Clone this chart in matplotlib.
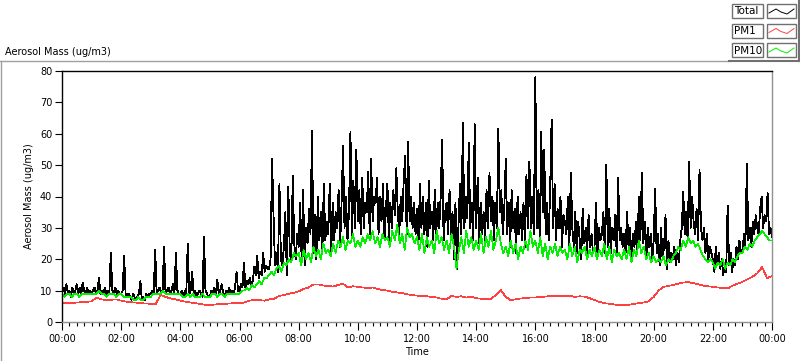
#!/usr/bin/env python
import numpy as np
import matplotlib
matplotlib.use('Agg')
import matplotlib.pyplot as plt
from matplotlib.ticker import MultipleLocator
from matplotlib.patches import Rectangle
from matplotlib.lines import Line2D

matplotlib.rc('font', family='DejaVu Sans', size=7)
matplotlib.rc('xtick', labelsize=7)
matplotlib.rc('ytick', labelsize=7)

# total aerosol mass, 3 min samples from 00:00 to 24:00 (one row per hour)
total = [
    10, 11, 9, 12, 9, 10, 8, 11, 9, 10, 12, 9, 11, 9, 12.5, 10, 9, 11, 9, 10,
    9, 10, 11, 9, 10, 14, 9, 10, 9, 11, 9, 10, 9, 22, 10, 9, 11, 9, 10, 9,
    9, 10, 21, 9, 8, 9, 8, 7, 9, 8, 7, 8, 9, 13, 7, 8, 7, 9, 8, 9,
    9, 10, 9, 23, 9, 10, 11, 9, 10, 24, 9, 10, 11, 9, 10, 12, 9, 22, 10, 9,
    9, 10, 8, 10, 9, 25, 9, 10, 16, 9, 10, 8, 9, 10, 9, 8, 27, 10, 9, 8,
    8, 10, 9, 11, 9, 13.5, 9, 10, 12, 9, 8, 10, 9, 11, 9, 10, 9, 11, 16, 10,
    10, 12, 11, 19, 11, 13, 12, 14, 12, 13, 17.5, 15, 21, 14, 16, 15, 22, 16, 18, 17,
    17, 20, 52, 34, 18, 22, 16, 44, 20, 18, 24, 35, 15, 43, 22, 19, 46.5, 25, 20, 28,
    24, 38, 20, 42, 18, 30, 25, 36, 28, 61, 22, 34, 20, 40, 26, 35, 22, 44, 26, 32,
    28, 44, 22, 38, 26, 35, 30, 42, 24, 38, 56, 30, 40, 26, 35, 60.5, 27, 45, 30, 55,
    32, 42, 28, 46, 30, 38, 35, 48, 28, 52, 32, 40, 38, 46, 28, 40, 32, 44, 26, 36,
    44, 26, 38, 30, 42, 34, 49, 35, 28, 40, 32, 45, 53, 28, 57.5, 32, 40, 30, 38, 28,
    36, 25, 44, 30, 40, 28, 38, 24, 45, 30, 35, 26, 42, 28, 38, 30, 40, 58, 26, 35,
    38, 28, 42, 26, 35, 20, 38, 17, 30, 44, 28, 63.5, 30, 40, 33, 57, 30, 38, 26, 63,
    30, 46, 25, 38, 28, 35, 26, 42, 30, 47.5, 32, 40, 26, 38, 30, 61.5, 35, 42, 28, 36,
    52, 28, 38, 24, 42, 30, 36, 22, 40, 28, 35, 26, 38, 24, 47, 30, 51, 30, 40, 28,
    78, 30, 42, 26, 60.5, 35, 55, 28, 38, 26, 42, 64.5, 30, 44, 26, 36, 30, 40, 24, 34,
    32, 28, 40, 24, 47.5, 30, 24, 35, 22, 32, 26, 20, 36, 25, 30, 22, 34, 24, 28, 22,
    24, 38, 22, 30, 26, 28, 35, 22, 50, 24, 36, 22, 30, 26, 34, 22, 46, 26, 30, 24,
    28, 22, 35, 24, 30, 20, 28, 24, 32, 22, 40, 26, 47.5, 25, 32, 20, 30, 24, 28, 20,
    26, 42.5, 22, 28, 18, 30, 20, 24, 34, 17, 26, 19, 22, 20, 24, 18, 22, 19, 26, 30,
    41.5, 28, 35, 26, 51, 30, 40, 32, 28, 36, 26, 48.5, 30, 26, 30, 22, 28, 20, 24, 22,
    20, 16, 24, 18, 22, 17, 20, 15, 18, 16, 37, 18, 22, 16, 20, 18, 24, 20, 26, 22,
    22, 28, 24, 50.5, 26, 30, 24, 32, 28, 34, 30, 28, 36, 40, 30, 34, 32, 41, 28, 30,
    27]

# PM10, 5 min samples
pm10 = [
    9, 8, 9, 9, 8, 9, 9, 8, 9, 9, 9, 9,
    9, 9, 9, 10, 9, 9, 8, 9, 9, 9, 8, 9,
    9, 8, 8, 8, 8, 7, 7, 8, 7, 7, 8, 8,
    8, 9, 9, 9, 9, 10, 9, 9, 9, 9, 9, 9,
    9, 8, 8, 9, 8, 9, 8, 8, 8, 9, 8, 8,
    8, 9, 9, 8, 9, 9, 8, 9, 9, 9, 9, 9,
    9, 10, 10, 11, 10, 12, 11, 12, 13, 12, 14, 14,
    15, 16, 15, 17, 18, 16, 19, 18, 20, 19, 22, 21,
    22, 18, 23, 20, 22, 19, 24, 21, 23, 20, 25, 22,
    23, 21, 25, 22, 26, 24, 27, 23, 26, 25, 28, 24,
    26, 24, 27, 25, 28, 26, 29, 25, 27, 24, 28, 26,
    27, 24, 29, 26, 31, 25, 28, 23, 30, 27, 28, 25,
    27, 23, 28, 22, 27, 24, 26, 22, 29, 25, 27, 23,
    26, 22, 28, 24, 17, 23, 27, 22, 29, 24, 27, 23,
    26, 23, 28, 22, 27, 24, 29, 23, 26, 30, 25, 22,
    24, 21, 26, 22, 25, 20, 24, 22, 26, 23, 29, 24,
    26, 22, 27, 21, 25, 20, 24, 22, 25, 21, 24, 22,
    23, 20, 25, 21, 24, 19, 23, 22, 24, 20, 23, 21,
    24, 20, 23, 21, 25, 20, 24, 19, 23, 21, 22, 20,
    23, 20, 24, 19, 23, 21, 26, 22, 24, 20, 22, 19,
    21, 19, 20, 19, 21, 18, 20, 19, 21, 22, 24, 23,
    26, 24, 27, 25, 26, 24, 25, 23, 21, 20, 19, 20,
    19, 17, 19, 18, 20, 17, 19, 18, 20, 19, 21, 22,
    22, 24, 23, 25, 24, 26, 27, 28, 29, 28, 27, 26,
    26]

# PM1 is smooth, 10 min samples
pm1 = [
    6.0, 6.0, 6.1, 6.2, 6.3, 6.4,
    6.6, 7.8, 7.2, 7.0, 7.1, 7.2,
    6.8, 6.5, 6.3, 6.2, 6.0, 5.9,
    5.8, 5.7, 8.6, 8.0, 7.5, 7.2,
    6.8, 6.5, 6.2, 6.0, 5.8, 5.5,
    5.4, 5.6, 5.7, 5.8, 5.9, 6.0,
    6.0, 6.2, 6.8, 7.0, 7.0, 6.8,
    7.2, 7.4, 8.3, 8.6, 9.0, 9.3,
    9.8, 10.5, 11.0, 12.0, 12.0, 11.6,
    11.5, 11.3, 11.8, 12.2, 11.0, 11.4,
    11.2, 11.0, 10.8, 11.0, 10.5, 10.2,
    10.0, 9.6, 9.4, 9.2, 8.8, 8.6,
    8.4, 8.3, 8.2, 8.0, 7.8, 7.4,
    7.2, 8.3, 8.0, 8.2, 7.8, 8.0,
    7.6, 7.4, 7.3, 7.4, 8.6, 10.2,
    8.0, 7.0, 7.2, 7.5, 7.6, 7.8,
    7.8, 8.0, 8.1, 8.3, 8.2, 8.4,
    8.3, 8.4, 8.0, 8.2, 8.1, 7.6,
    7.0, 6.4, 6.0, 5.8, 5.6, 5.4,
    5.3, 5.5, 5.8, 6.0, 6.2, 6.6,
    8.0, 10.0, 11.2, 11.5, 11.8, 12.2,
    12.6, 12.7, 12.4, 12.0, 11.6, 11.4,
    11.2, 11.0, 10.8, 10.7, 11.6, 12.2,
    12.8, 13.6, 14.4, 15.5, 17.5, 14.0,
    14.6]

t3 = np.arange(len(total)) * 3 / 60.
t5 = np.arange(len(pm10)) * 5 / 60.
t10 = np.arange(len(pm1)) * 10 / 60.
xticklabels = ['00:00', '02:00', '04:00', '06:00', '08:00', '10:00', '12:00',
               '14:00', '16:00', '18:00', '20:00', '22:00', '00:00']
names = ['Total', 'PM1', 'PM10']
colors = ['black', '#ff4040', '#00f000']

W, H = 800., 361.
fig = plt.figure(figsize=(8, 3.61), dpi=100)
ax = fig.add_axes([62/W, 1-322/H, 710/W, 251/H])

ax.plot(t3, total, color=colors[0], lw=0.6, antialiased=False)
ax.plot(t10, pm1, color=colors[1], lw=0.5, antialiased=False)
ax.plot(t5, pm10, color=colors[2], lw=0.5, antialiased=False)

ax.set_xlim(0, 24)
ax.set_ylim(0, 80)
ax.set_xticks(range(0, 25, 2))
ax.set_xticklabels(xticklabels)
ax.xaxis.set_minor_locator(MultipleLocator(0.25))
ax.set_yticks(range(0, 81, 10))
ax.tick_params(axis='x', which='major', length=6, width=0.8, pad=3)
ax.tick_params(axis='x', which='minor', length=3, width=0.8)
ax.tick_params(axis='y', length=5, width=0.8, pad=2)
ax.spines['top'].set_color('black')
ax.spines['left'].set_color('black')
ax.spines['right'].set_color('#909090')
ax.spines['bottom'].set_color('#909090')
for s in ax.spines.values():
    s.set_linewidth(1.0)
ax.set_xlabel('Time', labelpad=2)
ax.set_ylabel('Aerosol Mass (ug/m3)', labelpad=4)

# panel frame + caption
fig.add_artist(Line2D([0, 729/W], [1-61/H, 1-61/H], color='#a0a0a0', lw=1))
fig.add_artist(Line2D([729/W, 1], [1-61/H, 1-61/H], color='#707070', lw=1.5))
fig.add_artist(Line2D([1/W, 1/W], [0, 1-61/H], color='#a0a0a0', lw=1))
fig.add_artist(Line2D([799/W, 799/W], [1-61/H, 1], color='#707070', lw=1.5))
fig.text(5/W, 1-52/H, 'Aerosol Mass (ug/m3)', ha='left', va='center')

# plot legend, LabVIEW style boxes
for i, name in enumerate(names):
    y0 = 4 + i*19.5
    fig.add_artist(Rectangle((732/W, 1-(y0+14)/H), 31/W, 14/H, fill=False,
                             edgecolor='#707070', lw=1, transform=fig.transFigure))
    fig.add_artist(Rectangle((767/W, 1-(y0+14)/H), 29/W, 14/H, fill=False,
                             edgecolor='#707070', lw=1, transform=fig.transFigure))
    fig.text(734/W, 1-(y0+7.5)/H, name, ha='left', va='center', fontsize=7.5)
    zx = np.array([769, 776, 781, 787, 794]) / W
    zy = 1 - (y0 + np.array([9, 5, 8, 10, 5])) / H
    fig.add_artist(Line2D(zx, zy, color=colors[i], lw=0.7))

plt.savefig('out.png', dpi=100)
plt.close()
